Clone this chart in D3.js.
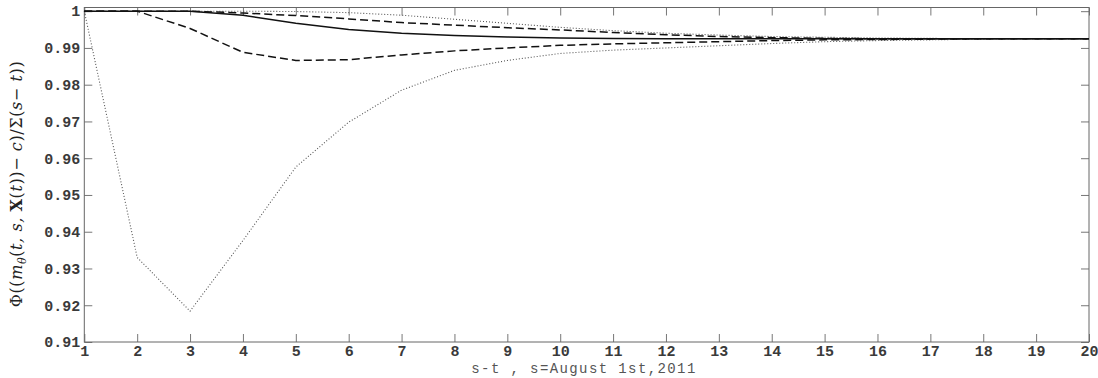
<!DOCTYPE html>
<html>
<head>
<meta charset="utf-8">
<script src="https://cdn.jsdelivr.net/npm/d3@7"></script>
<style>
  html, body { margin: 0; padding: 0; background: #fff; }
  svg { display: block; }
  .tick text { font-family: "Liberation Mono", monospace; font-size: 15px; font-weight: bold; fill: #3a3a3a; }
  .domain { display: none; }
  .tick line { stroke: #777; }
</style>
</head>
<body>
<svg></svg>
<script>
// values
const steps = d3.range(1, 21);

const solidMid = [1, 1, 1, 0.9989, 0.9967, 0.9950, 0.9940, 0.9934, 0.9930, 0.9927,
  0.9926, 0.9925, 0.9925, 0.9925, 0.9925, 0.9925, 0.9925, 0.9925, 0.9925, 0.9925];
const dashedUpper = [1, 1, 1, 0.9995, 0.9988, 0.9979, 0.9969, 0.9962, 0.9955, 0.9949,
  0.9942, 0.9936, 0.9931, 0.9928, 0.9926, 0.9925, 0.9925, 0.9925, 0.9925, 0.9925];
const dottedUpper = [1, 1, 1, 1, 0.9999, 0.9996, 0.9989, 0.9978, 0.9967, 0.9956,
  0.9947, 0.9940, 0.9935, 0.9931, 0.9929, 0.9927, 0.9926, 0.9925, 0.9925, 0.9925];
const dashedLower = [1, 1, 0.9953, 0.9888, 0.9866, 0.9868, 0.9881, 0.9892, 0.9900, 0.9907,
  0.9911, 0.9914, 0.9917, 0.9920, 0.9922, 0.9923, 0.9924, 0.9925, 0.9925, 0.9925];
const dottedLower = [1, 0.9330, 0.9184, 0.9376, 0.9576, 0.9698, 0.9785, 0.9839, 0.9866, 0.9885,
  0.9894, 0.9900, 0.9906, 0.9912, 0.9917, 0.9920, 0.9922, 0.9924, 0.9925, 0.9925];

const yTicks = [0.91, 0.92, 0.93, 0.94, 0.95, 0.96, 0.97, 0.98, 0.99, 1];
const yTickLabels = ["0.91", "0.92", "0.93", "0.94", "0.95", "0.96", "0.97", "0.98", "0.99", "1"];
const xTitle = "s-t , s=August 1st,2011";

const width = 1098;
const height = 378;
const margin = {top: 7.5, right: 9, bottom: 36, left: 84.3};

const svg = d3.select("svg")
  .attr("width", width)
  .attr("height", height);

const x = d3.scaleLinear()
  .domain([1, 20])
  .range([margin.left, width - margin.right]);

const y = d3.scaleLinear()
  .domain([0.91, 1.001])
  .range([height - margin.bottom, margin.top]);

// axes, matlab style box with inward ticks
svg.append("g")
  .attr("transform", `translate(0,${height - margin.bottom})`)
  .call(d3.axisBottom(x).tickValues(steps).tickSizeInner(-8).tickSizeOuter(0).tickPadding(3).tickFormat(d3.format("d")));

svg.append("g")
  .attr("transform", `translate(0,${margin.top})`)
  .call(d3.axisTop(x).tickValues(steps).tickSizeInner(-8).tickSizeOuter(0).tickFormat(""));

svg.append("g")
  .attr("transform", `translate(${margin.left},0)`)
  .call(d3.axisLeft(y).tickValues(yTicks).tickSizeInner(-8).tickSizeOuter(0).tickPadding(4)
    .tickFormat((d, i) => yTickLabels[i]));

svg.append("g")
  .attr("transform", `translate(${width - margin.right},0)`)
  .call(d3.axisRight(y).tickValues(yTicks).tickSizeInner(-8).tickSizeOuter(0).tickFormat(""));

svg.append("rect")
  .attr("x", margin.left)
  .attr("y", margin.top)
  .attr("width", width - margin.right - margin.left)
  .attr("height", height - margin.bottom - margin.top)
  .attr("fill", "none")
  .attr("stroke", "#666")
  .attr("stroke-width", 1);

const line = d3.line()
  .x((d, i) => x(steps[i]))
  .y(d => y(d));

const series = [
  {values: dottedLower, stroke: "#555", width: 1.1, dash: "1,2"},
  {values: dottedUpper, stroke: "#555", width: 1.1, dash: "1,2"},
  {values: dashedLower, stroke: "#111", width: 1.5, dash: "8,4"},
  {values: dashedUpper, stroke: "#111", width: 1.5, dash: "8,4"},
  {values: solidMid, stroke: "#111", width: 1.5, dash: null}
];

svg.append("g")
  .selectAll("path")
  .data(series)
  .enter().append("path")
    .attr("d", d => line(d.values))
    .attr("fill", "none")
    .attr("stroke", d => d.stroke)
    .attr("stroke-width", d => d.width)
    .attr("stroke-dasharray", d => d.dash);

// x title
svg.append("text")
  .attr("x", 584)
  .attr("y", 373)
  .attr("text-anchor", "middle")
  .style("font-family", "Liberation Mono, monospace")
  .style("font-size", "14px")
  .style("letter-spacing", "1.4px")
  .attr("fill", "#555")
  .text(xTitle);

// y title
const yt = svg.append("text")
  .attr("transform", "translate(22,184) rotate(-90)")
  .attr("text-anchor", "middle")
  .style("font-family", "DejaVu Serif, serif")
  .style("font-size", "16px")
  .style("letter-spacing", "0.6px")
  .attr("fill", "#222");

yt.append("tspan").text("Φ((");
yt.append("tspan").style("font-style", "italic").text("m");
yt.append("tspan").attr("dy", 4).style("font-size", "11px").style("font-style", "italic").text("θ");
yt.append("tspan").attr("dy", -4).text("(");
yt.append("tspan").style("font-style", "italic").text("t, s, ");
yt.append("tspan").style("font-weight", "bold").text("X");
yt.append("tspan").text("(");
yt.append("tspan").style("font-style", "italic").text("t");
yt.append("tspan").text("))− ");
yt.append("tspan").style("font-style", "italic").text("c");
yt.append("tspan").text(")/Σ(");
yt.append("tspan").style("font-style", "italic").text("s");
yt.append("tspan").text("− ");
yt.append("tspan").style("font-style", "italic").text("t");
yt.append("tspan").text("))");
</script>
</body>
</html>
